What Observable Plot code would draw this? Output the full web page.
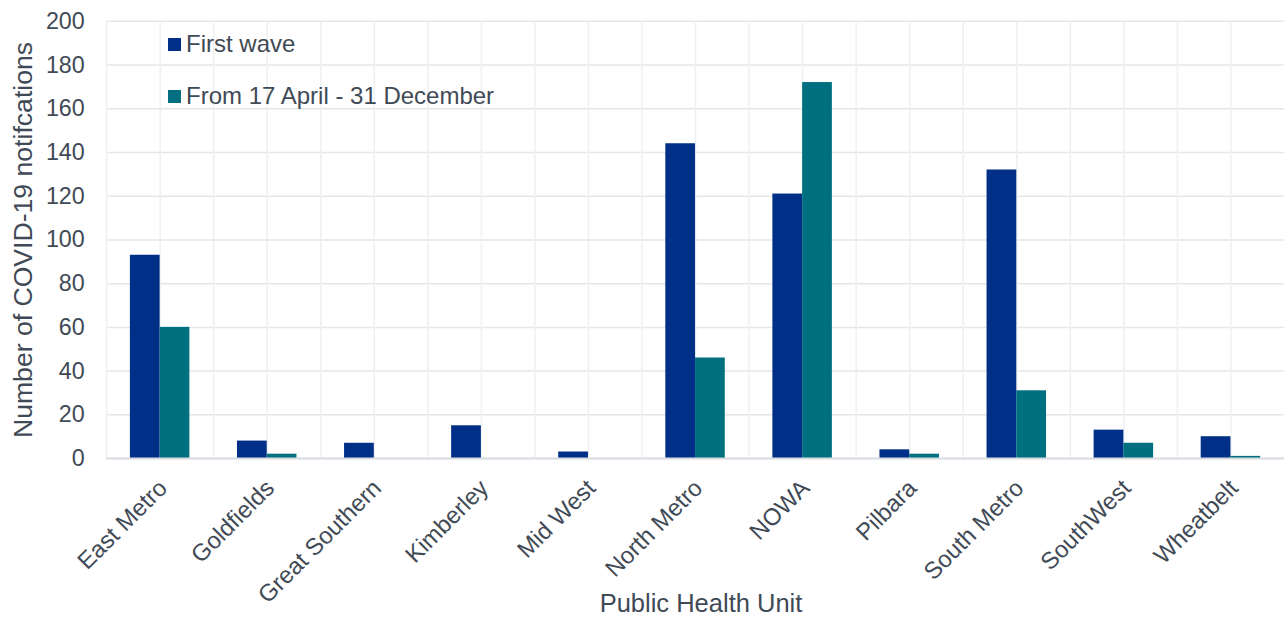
<!DOCTYPE html>
<html><head><meta charset="utf-8">
<script src="https://cdn.jsdelivr.net/npm/d3@7"></script>
<script src="https://cdn.jsdelivr.net/npm/@observablehq/plot@0.6"></script>
<style>
html,body{margin:0;padding:0;background:#fff;overflow:hidden;}
#wrap{position:relative;width:1284px;height:617px;overflow:hidden;font-family:"Liberation Sans",Arial,sans-serif;color:#3f4a56;}
#wrap svg{position:absolute;left:0;top:0;}
.legend{position:absolute;left:168px;font-size:24px;line-height:1;display:flex;align-items:center;white-space:nowrap;}
.sw{width:13px;height:13px;margin-right:5px;}
.ytitle{position:absolute;left:23px;top:240px;font-size:26.6px;line-height:1;white-space:nowrap;transform:translate(-50%,-50%) rotate(-90deg);}
.xtitle{position:absolute;left:701px;top:592.5px;font-size:25.5px;line-height:0.8;white-space:nowrap;transform:translateX(-50%);}
</style></head><body><div id="wrap"></div>
<script>
const categories = ["East Metro","Goldfields","Great Southern","Kimberley","Mid West","North Metro","NOWA","Pilbara","South Metro","SouthWest","Wheatbelt"];
const seriesNames = ["First wave","From 17 April - 31 December"];
const firstWave = [93,8,7,15,3,144,121,4,132,13,10];
const fromApril = [60,2,0,0,0,46,172,2,31,7,1];
const yTicks = [0,20,40,60,80,100,120,140,160,180,200];
const colors = ["#002f87","#007080"];
const yTitle = "Number of COVID-19 notifcations";
const xTitle = "Public Health Unit";

const data = categories.flatMap((c,i)=>[
  {unit:c, series:seriesNames[0], value:firstWave[i]},
  {unit:c, series:seriesNames[1], value:fromApril[i]}
]);

const chart = Plot.plot({
  width:1295, height:617, marginLeft:107, marginRight:0, marginTop:21, marginBottom:155,
  style:{fontFamily:'"Liberation Sans", Arial, sans-serif', color:"#3f4a56", background:"transparent", overflow:"visible"},
  fx:{domain:categories, padding:0, label:null, axis:null},
  x:{domain:seriesNames, paddingInner:0, paddingOuter:0.742, axis:null},
  y:{domain:[0,200]},
  color:{domain:seriesNames, range:colors},
  marks:[
    Plot.gridY(yTicks, {stroke:"#e3e6ea", strokeOpacity:1, strokeWidth:1.5}),
    Plot.frame({anchor:"left", stroke:"#eef0f3", strokeWidth:1.5}),
    Plot.gridFx({stroke:"#eef0f3", strokeOpacity:1, strokeWidth:1.5}),
    Plot.barY(data, {fx:"unit", x:"series", y:"value", fill:"series"}),
    Plot.ruleY([0], {stroke:"#d9dde2", strokeWidth:2}),
    Plot.axisY(yTicks, {tickSize:0, tickPadding:22, fontSize:23.5, label:null, fill:"#3f4a56"}),
    Plot.axisFx({anchor:"bottom", tickSize:0, tickRotate:-45, fontSize:24, dx:3, dy:14, label:null, fill:"#3f4a56"})
  ]
});

const wrap = document.getElementById("wrap");
wrap.appendChild(chart);
const lg = d3.select(wrap);
seriesNames.forEach((s,i)=>{
  const row = lg.append("div").attr("class","legend").style("top",(i===0?32:84)+"px");
  row.append("div").attr("class","sw").style("background",colors[i]);
  row.append("span").text(s);
});
lg.append("div").attr("class","ytitle").text(yTitle);
lg.append("div").attr("class","xtitle").text(xTitle);
</script></body></html>
